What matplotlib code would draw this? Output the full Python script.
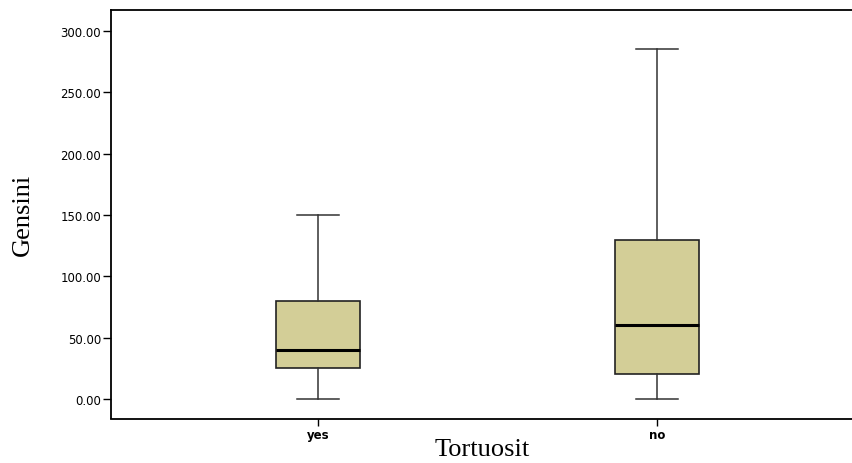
import matplotlib.pyplot as plt

# Gensini score by tortuosity group
groups = ["yes", "no"]
whisker_low = [0, 0]
q1 = [25, 20]
median = [40, 60]
q3 = [80, 130]
whisker_high = [150, 285]

y_ticks = [0, 50, 100, 150, 200, 250, 300]

stats = []
for i, g in enumerate(groups):
    stats.append({
        "label": g,
        "whislo": whisker_low[i],
        "q1": q1[i],
        "med": median[i],
        "q3": q3[i],
        "whishi": whisker_high[i],
        "fliers": [],
    })

fig = plt.figure(figsize=(8.53, 4.64), dpi=100)
ax = fig.add_axes([111 / 853, 1 - 419.5 / 464, 1 - 111 / 853, 408.5 / 464])

ax.bxp(stats, positions=[1, 2], widths=0.25, patch_artist=True,
       boxprops=dict(facecolor="#d3ce97", edgecolor="#222222", linewidth=1.2),
       medianprops=dict(color="black", linewidth=2.2),
       whiskerprops=dict(color="#333333", linewidth=1.1),
       capprops=dict(color="#333333", linewidth=1.1),
       capwidths=0.125)

ax.set_xlim(0.389, 2.578)
ax.set_ylim(-15.9, 317.1)
ax.spines["right"].set_visible(False)
for s in ["left", "top", "bottom"]:
    ax.spines[s].set_linewidth(1.3)

ax.set_yticks(y_ticks)
ax.set_yticklabels([f"{v:.2f}" for v in y_ticks], fontsize=8.5,
                   family="DejaVu Sans")
ax.set_xticks([1, 2])
ax.set_xticklabels(groups, fontsize=8.5, fontweight="bold",
                   family="DejaVu Sans")
ax.tick_params(axis="y", length=6, width=1, pad=1)
ax.tick_params(axis="x", length=5, width=1, pad=2)

ax.set_xlabel("Tortuosit", family="Liberation Serif", fontsize=19, labelpad=-2)
ax.set_ylabel("Gensini", family="Liberation Serif", fontsize=19)
ax.yaxis.set_label_coords(-77 / 742, 0.5)

fig.savefig("out.png", dpi=100)
